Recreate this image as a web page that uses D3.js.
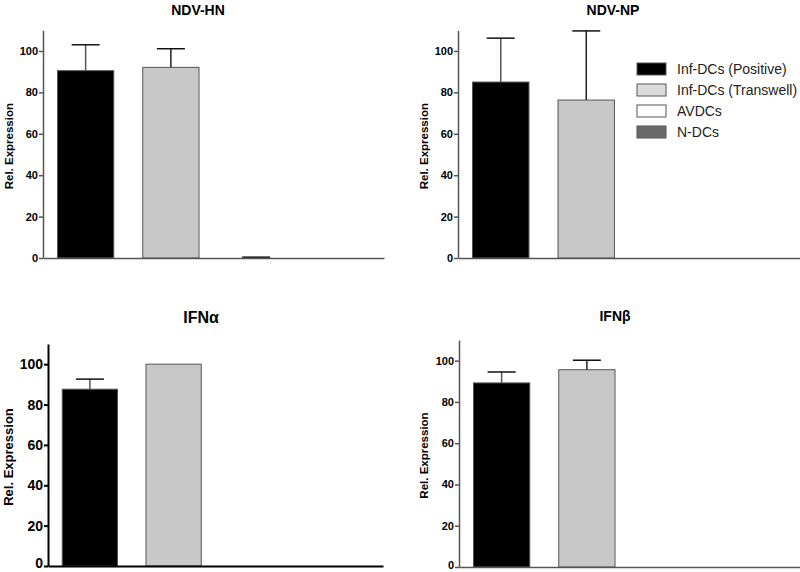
<!DOCTYPE html>
<html lang="en">
<head>
<meta charset="UTF-8">
<script src="https://d3js.org/d3.v7.min.js"></script>
<style>
  body { margin: 0; background: #fff; }
  svg { font-family: "Liberation Sans", Arial, sans-serif; }
</style>
</head>
<body>
<div id="chart"></div>
<script>
// categories shared by all four panels
var groups = ["Inf-DCs (Positive)", "Inf-DCs (Transwell)", "AVDCs", "N-DCs"]
var yTicks = [0, 20, 40, 60, 80, 100]

// values (mean, error)
var hnMean = [90.5, 92.1, 0.2, 0]
var hnErr = [12.5, 9.0, 0.2, 0]
var npMean = [85.0, 76.3, 0, 0]
var npErr = [21.2, 33.4, 0, 0]
var ifnaMean = [87.6, 100.0, 0, 0]
var ifnaErr = [5.0, 0, 0, 0]
var ifnbMean = [89.2, 95.6, 0, 0]
var ifnbErr = [5.3, 4.6, 0, 0]

var titles = ["NDV-HN", "NDV-NP", "IFN\u03b1", "IFN\u03b2"]

var fills = ["#000000", "#c8c8c8", "#ffffff", "#666666"]
var legendFills = ["#000000", "#dcdcdc", "#ffffff", "#6a6a6a"]

var width = 800, height = 572

var svg = d3.select("#chart").append("svg")
    .attr("width", width)
    .attr("height", height)

// layout for each panel
var panels = [
  {title: titles[0], mean: hnMean, err: hnErr, x0: 43, x1: 384, yb: 258, yt: 30.3,
   tx: 198, ty: 15, lx: 9, big: false},
  {title: titles[1], mean: npMean, err: npErr, x0: 458, x1: 800, yb: 258, yt: 30.3,
   tx: 613, ty: 15, lx: 424, big: false},
  {title: titles[2], mean: ifnaMean, err: ifnaErr, x0: 48, x1: 383, yb: 566, yt: 344,
   tx: 201, ty: 323, lx: 9, big: true},
  {title: titles[3], mean: ifnbMean, err: ifnbErr, x0: 459, x1: 800, yb: 567, yt: 340,
   tx: 615, ty: 321, lx: 424, big: false}
]

panels.forEach(function(p) {
  var g = svg.append("g")
  var axisColor = p.big ? "#000" : "#555"
  var axisW = p.big ? 2 : 1.5

  var x = d3.scaleBand()
      .domain(groups)
      .range([p.x0, p.x1])
      .paddingInner(0.34)
      .paddingOuter(0.17)

  var y = d3.scaleLinear()
      .domain([0, 110])
      .range([p.yb, p.yt])

  var rows = groups.map(function(k, i) {
    return {key: k, v: p.mean[i], e: p.err[i], i: i}
  })

  // bars
  g.selectAll("rect.bar")
      .data(rows.filter(function(d) { return d.v > 0.5 }))
      .enter().append("rect")
      .attr("class", "bar")
      .attr("x", function(d) { return x(d.key) })
      .attr("y", function(d) { return y(d.v) })
      .attr("width", x.bandwidth())
      .attr("height", function(d) { return y(0) - y(d.v) })
      .attr("fill", function(d) { return fills[d.i] })
      .attr("stroke", "#555")
      .attr("stroke-width", 1)

  // error bars
  var eb = g.selectAll("g.err")
      .data(rows.filter(function(d) { return d.e > 0 }))
      .enter().append("g")
      .attr("class", "err")
  eb.filter(function(d) { return d.v > 0.5 }).append("line")
      .attr("x1", function(d) { return x(d.key) + x.bandwidth() / 2 })
      .attr("x2", function(d) { return x(d.key) + x.bandwidth() / 2 })
      .attr("y1", function(d) { return y(d.v) })
      .attr("y2", function(d) { return y(d.v + d.e) })
      .attr("stroke", function(d) { return d.i == 0 ? "#555" : "#222" })
      .attr("stroke-width", 1.5)
  eb.append("line")
      .attr("x1", function(d) { return x(d.key) + x.bandwidth() / 2 - 14 })
      .attr("x2", function(d) { return x(d.key) + x.bandwidth() / 2 + 14 })
      .attr("y1", function(d) { return y(d.v + d.e) })
      .attr("y2", function(d) { return y(d.v + d.e) })
      .attr("stroke", "#111")
      .attr("stroke-width", 1.5)

  // y axis
  var ya = g.append("g")
      .attr("transform", "translate(" + p.x0 + ",0)")
      .call(d3.axisLeft(y).tickValues(yTicks).tickSize(4).tickSizeOuter(0).tickPadding(1))
  ya.select(".domain").attr("stroke", axisColor).attr("stroke-width", axisW)
  ya.selectAll(".tick line").attr("stroke", axisColor).attr("stroke-width", axisW)
  ya.selectAll(".tick text")
      .attr("fill", "#000")
      .style("font-family", "'Liberation Sans', Arial, sans-serif")
      .style("font-weight", "bold")
      .style("font-size", p.big ? "14px" : "11px")
  // keep the bottom "0" inside the page
  if (p.yb > 560) {
    ya.selectAll(".tick text").filter(function(d) { return d == 0 })
        .attr("dy", "0.1em")
  }

  // x axis (no labels)
  var xa = g.append("g")
      .attr("transform", "translate(0," + p.yb + ")")
      .call(d3.axisBottom(x).tickValues([]).tickSizeOuter(0))
  xa.select(".domain").attr("stroke", axisColor).attr("stroke-width", axisW)

  // title
  g.append("text")
      .attr("x", p.tx)
      .attr("y", p.ty)
      .attr("text-anchor", "middle")
      .style("font-weight", "bold")
      .style("font-size", p.big ? "16px" : "14px")
      .text(p.title)

  // y label
  g.append("text")
      .attr("transform", "translate(" + (p.lx + (p.big ? 4 : 3.5)) + "," + ((p.yb + p.yt) / 2 + 2) + ") rotate(-90)")
      .attr("text-anchor", "middle")
      .style("font-weight", "bold")
      .style("font-size", p.big ? "13px" : "11.5px")
      .text("Rel. Expression")
})

// legend (in the NDV-NP panel)
var leg = svg.append("g").attr("transform", "translate(637,63)")
var li = leg.selectAll("g")
    .data(groups)
    .enter().append("g")
    .attr("transform", function(d, i) { return "translate(0," + (i * 21) + ")" })
li.append("rect")
    .attr("width", 29)
    .attr("height", 12)
    .attr("fill", function(d, i) { return legendFills[i] })
    .attr("stroke", "#555")
li.append("text")
    .attr("x", 40)
    .attr("y", 11)
    .attr("fill", "#222")
    .style("font-size", "14px")
    .text(function(d) { return d })
</script>
</body>
</html>
